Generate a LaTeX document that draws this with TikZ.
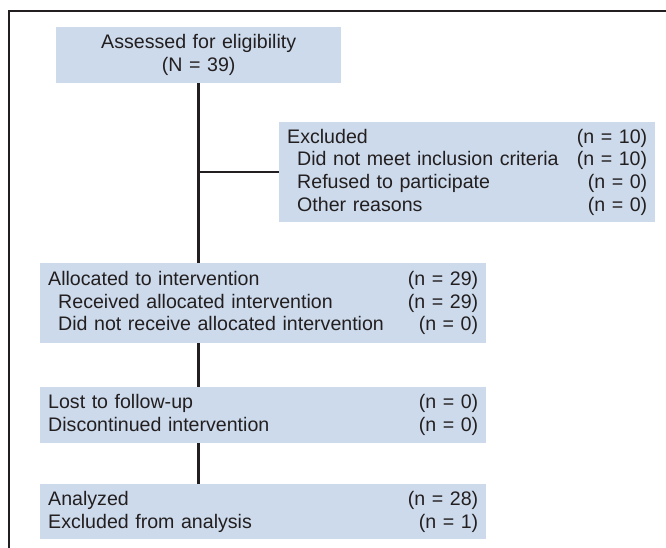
\documentclass[tikz,border=0pt]{standalone}
\usepackage{fontspec}
\setmainfont{Liberation Sans}
\usetikzlibrary{positioning}
\definecolor{boxblue}{HTML}{CCDAEB}
\definecolor{inkgray}{HTML}{231F20}
\newcommand\nudge{\hspace*{10pt}}

\begin{document}
\begin{tikzpicture}[
  x=1pt, y=-1pt,
  font=\fontsize{19.6}{22.7}\selectfont,
  text=inkgray,
  box/.style={fill=boxblue, inner xsep=8pt, inner ysep=0pt, anchor=north west, align=left},
  link/.style={draw=inkgray, line width=2.6pt},
]
  \useasboundingbox (0,0) rectangle (666,548);

  % Frame
  \draw[inkgray, line width=1.2pt] (666,11) -| (9,548);

  % Enrollment
  \node[box, text width=269pt, minimum height=56pt, align=center] (assess) at (56,27)
    {Assessed for eligibility\\(N = 39)};
  \node[box, text width=360pt, minimum height=100pt] (exclude) at (279,122)
    {Excluded\hfill(n = 10)\\
     \nudge Did not meet inclusion criteria\hfill(n = 10)\\
     \nudge Refused to participate\hfill(n = 0)\\
     \nudge Other reasons\hfill(n = 0)};

  % Allocation
  \node[box, text width=430pt, minimum height=80pt] (allocate) at (40,263)
    {Allocated to intervention\hfill(n = 29)\\
     \nudge Received allocated intervention\hfill(n = 29)\\
     \nudge Did not receive allocated intervention\hfill(n = 0)};

  % Follow-up
  \node[box, text width=430pt, minimum height=56pt] (lost) at (40,387)
    {Lost to follow-up\hfill(n = 0)\\
     Discontinued intervention\hfill(n = 0)};

  % Analysis
  \node[box, text width=430pt, minimum height=55pt] (analyze) at (40,484)
    {Analyzed\hfill(n = 28)\\
     Excluded from analysis\hfill(n = 1)};

  % Connectors
  \draw[link] (assess.south) -- (assess.south |- allocate.north);
  \draw[link] (exclude.west -| assess.south) -- (exclude.west);
  \draw[link] (allocate.south -| assess.south) -- (assess.south |- lost.north);
  \draw[link] (lost.south -| assess.south) -- (assess.south |- analyze.north);

\end{tikzpicture}
\end{document}
